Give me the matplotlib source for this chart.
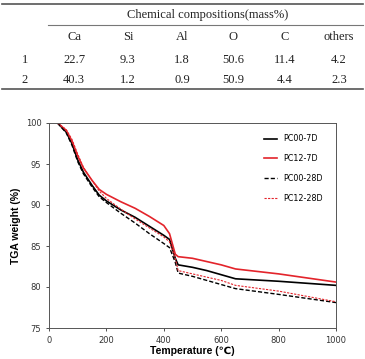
import matplotlib.pyplot as plt
from matplotlib.lines import Line2D

# table data
col_names = ['Ca', 'Si', 'Al', 'O', 'C', 'others']
row_names = ['1', '2']
table_vals = [['22.7', '9.3', '1.8', '50.6', '11.4', '4.2'],
              ['40.3', '1.2', '0.9', '50.9', '4.4', '2.3']]

# TGA curves
temp = [30, 60, 80, 100, 120, 150, 175, 200, 250, 300, 350, 400, 420, 440, 450, 500, 550, 600, 650, 800, 1000]
pc00_7d = [100, 98.9, 97.5, 95.5, 94.0, 92.4, 91.2, 90.5, 89.4, 88.5, 87.4, 86.3, 85.8, 83.5, 82.7, 82.4, 82.0, 81.5, 81.0, 80.7, 80.2]
pc12_7d = [100, 99.1, 97.8, 96.0, 94.5, 93.0, 91.9, 91.3, 90.4, 89.6, 88.6, 87.5, 86.5, 84.0, 83.7, 83.5, 83.1, 82.7, 82.2, 81.6, 80.6]
pc00_28d = [100, 98.8, 97.3, 95.3, 93.8, 92.2, 91.0, 90.3, 89.0, 87.8, 86.5, 85.3, 84.8, 83.0, 81.7, 81.3, 80.8, 80.3, 79.8, 79.1, 78.1]
pc12_28d = [100, 99.2, 98.0, 96.2, 94.6, 93.0, 91.7, 90.8, 89.5, 88.3, 87.2, 86.1, 85.5, 83.5, 82.0, 81.6, 81.2, 80.8, 80.2, 79.5, 78.2]

fig = plt.figure(figsize=(3.65, 3.59), dpi=100)
W, H = 365, 359

def fx(px):
    return px / W

def fy(py):
    return 1 - py / H

serif = 'Liberation Serif'
fs = 9
# table lines
fig.add_artist(Line2D([fx(2), fx(363)], [fy(4), fy(4)], color='#555555', lw=1.2))
fig.add_artist(Line2D([fx(48), fx(363)], [fy(24.5), fy(24.5)], color='#777777', lw=0.8))
fig.add_artist(Line2D([fx(2), fx(363)], [fy(89), fy(89)], color='#555555', lw=1.2))

fig.text(fx(208), fy(15), 'Chemical compositions(mass%)', ha='center', va='center',
         family=serif, fontsize=fs, color='#222222')
col_x = [74, 128, 182, 233, 285, 339]
for x, name in zip(col_x, col_names):
    fig.text(fx(x), fy(37), name, ha='center', va='center', family=serif, fontsize=fs, color='#222222')
for ry, rname, vals in zip([60, 80], row_names, table_vals):
    fig.text(fx(25), fy(ry), rname, ha='center', va='center', family=serif, fontsize=fs, color='#222222')
    for x, v in zip(col_x, vals):
        fig.text(fx(x), fy(ry), v, ha='center', va='center', family=serif, fontsize=fs, color='#222222')

# chart
ax = fig.add_axes([fx(49), fy(328), fx(336) - fx(49), fy(123) - fy(328)])
red = '#e3242b'
ax.plot(temp, pc00_7d, color='black', lw=1.2, label='PC00-7D')
ax.plot(temp, pc12_7d, color=red, lw=1.2, label='PC12-7D')
ax.plot(temp, pc00_28d, color='black', lw=1.0, ls=(0, (3, 1.5)), label='PC00-28D')
ax.plot(temp, pc12_28d, color=red, lw=0.8, ls=(0, (2, 1.2)), label='PC12-28D')

ax.set_xlim(0, 1000)
ax.set_ylim(75, 100)
ax.set_xticks([0, 200, 400, 600, 800, 1000])
ax.set_yticks([75, 80, 85, 90, 95, 100])
ax.tick_params(labelsize=6, length=2, width=0.6, colors='#333333')
for s in ax.spines.values():
    s.set_linewidth(0.7)
    s.set_color('#555555')
ax.set_xlabel('Temperature (℃)', fontsize=7.5, fontweight='bold', family=['Liberation Sans', 'DejaVu Sans'], labelpad=1)
ax.set_ylabel('TGA weight (%)', fontsize=7.5, fontweight='bold', family='Liberation Sans', labelpad=3)
ax.legend(loc='upper right', frameon=False, fontsize=5.8, handlelength=1.6, labelspacing=1.35,
          bbox_to_anchor=(0.98, 0.98))

fig.savefig('out.png', dpi=100)
